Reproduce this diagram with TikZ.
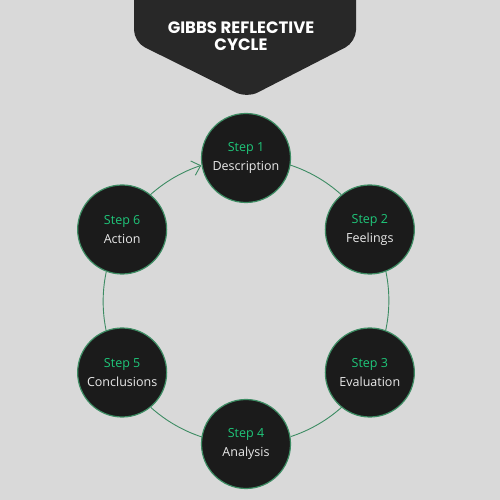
\documentclass[tikz,border=0pt]{standalone}
\usepackage{fontspec}
\setmainfont{Open Sans}
\newfontfamily\titlefont{Poppins}[BoldFont={Poppins Bold}]
\usetikzlibrary{arrows.meta,calc}
\definecolor{bg}{HTML}{D9D9D9}
\definecolor{banner}{HTML}{282828}
\definecolor{disc}{HTML}{1B1B1B}
\definecolor{ring}{HTML}{3D8C63}
\definecolor{stepgreen}{HTML}{1FC77A}
\definecolor{lbl}{HTML}{EAEAEA}
\tikzset{
  stepnode/.style={circle, fill=disc, draw=ring, line width=1.2pt, minimum size=89pt, inner sep=0pt, outer sep=0pt, align=center, font=\fontsize{12.5}{19}\selectfont, text=lbl},
  link/.style={draw=ring, line width=0.9pt},
}
\newcommand{\stp}[1]{{\color{stepgreen}Step #1}}
\begin{document}
\begin{tikzpicture}[x=1pt,y=1pt]
\fill[bg] (0,0) rectangle (500,500);
\useasboundingbox (0,0) rectangle (500,500);
\fill[banner, rounded corners=12pt] (134,520) -- (134,458) -- (247,402) -- (356,458) -- (356,520) -- cycle;
\node[text=white, align=center, font=\titlefont\bfseries\fontsize{16.5}{17.5}\selectfont] (title) at (241,464) {GIBBS REFLECTIVE\\CYCLE};
\coordinate (c) at (246,199);
\node[stepnode] (s1) at ($(c)+(90:143)$) {\stp{1}\\Description};
\node[stepnode] (s2) at ($(c)+(30:143)$) {\stp{2}\\Feelings};
\node[stepnode] (s3) at ($(c)+(-30:143)$) {\stp{3}\\Evaluation};
\node[stepnode] (s4) at ($(c)+(-90:143)$) {\stp{4}\\Analysis};
\node[stepnode] (s5) at ($(c)+(-150:143)$) {\stp{5}\\Conclusions};
\node[stepnode] (s6) at ($(c)+(150:143)$) {\stp{6}\\Action};
\draw[link] (s1.-9) arc[start angle=71.9, end angle=48.1, radius=143];
\draw[link] (s2.-69) arc[start angle=11.9, end angle=-11.9, radius=143];
\draw[link] (s3.-129) arc[start angle=-48.1, end angle=-71.9, radius=143];
\draw[link] (s4.171) arc[start angle=-108.1, end angle=-131.9, radius=143];
\draw[link] (s5.111) arc[start angle=-168.1, end angle=-191.9, radius=143];
\draw[link, -{Straight Barb[length=8pt,width=15pt]}] (s6.51) arc[start angle=131.9, end angle=108.1, radius=143];
\end{tikzpicture}
\end{document}
